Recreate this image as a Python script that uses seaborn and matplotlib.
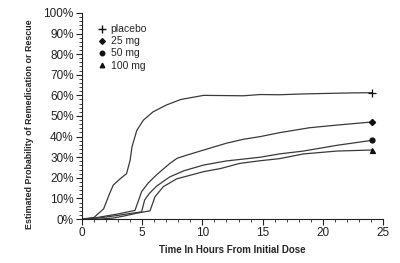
import numpy as np
import pandas as pd
import seaborn as sns
import matplotlib.pyplot as plt
from matplotlib.lines import Line2D
from matplotlib.ticker import MultipleLocator, PercentFormatter

# values (hours, % remedicated)
placebo_h = [0, 1.0, 1.8, 2.3, 2.6, 3.2, 3.7, 4.0, 4.15, 4.55, 5.1, 5.9, 7.0, 8.2, 10.1, 13.4, 14.8, 16.4, 18.4, 22.5, 24.1]
placebo_p = [0, 0.8, 5, 12.5, 16.5, 19.7, 22, 28.6, 35, 43, 48, 52, 55.3, 58, 60, 59.8, 60.4, 60.3, 60.7, 61.2, 61.3]

mg25_h = [0, 1, 2, 3, 4.4, 4.95, 5.5, 6.2, 7.3, 7.9, 8.7, 10.4, 12, 13.4, 14.8, 16.4, 18.9, 21.2, 24.1]
mg25_p = [0, 0.5, 1.5, 2.5, 4.2, 13.3, 17.5, 21.5, 27, 29.5, 31, 34, 36.8, 38.7, 40, 41.9, 44.3, 45.6, 47.1]

mg50_h = [0, 1, 2, 3, 4, 4.95, 5.2, 5.6, 6.2, 7.3, 8.5, 10.1, 12, 14.8, 16.4, 18.4, 21.2, 24.1]
mg50_p = [0, 0.3, 1, 1.8, 2.7, 3.5, 9.2, 12.5, 16, 20.5, 23.5, 26.2, 28.2, 30, 31.6, 33, 35.8, 38.2]

mg100_h = [0, 1.5, 2.6, 3.5, 4.5, 5.65, 6.06, 6.75, 7.86, 10.1, 11.5, 13.1, 14.8, 16.4, 18.4, 21.2, 24.1]
mg100_p = [0, 0, 0.5, 1.5, 2.8, 4, 10.8, 15.7, 19.5, 23, 24.5, 27, 28.3, 29.3, 31.6, 33, 33.5]

labels = ['placebo', '25 mg', '50 mg', '100 mg']
markers = ['+', 'D', 'o', '^']

sns.set_style('ticks')
plt.rcParams['font.family'] = ['Liberation Sans Narrow', 'Liberation Sans', 'DejaVu Sans']

fig = plt.figure(figsize=(4, 2.63), dpi=100)
ax = fig.add_axes([0.205, 0.167, 0.7525, 0.784])

line_col = '#3a3a3a'
series = [(placebo_h, placebo_p), (mg25_h, mg25_p), (mg50_h, mg50_p), (mg100_h, mg100_p)]
msizes = [6, 3.2, 3.6, 3.6]
for (h, p), lab, mk, ms in zip(series, labels, markers, msizes):
    df = pd.DataFrame({'hours': h, 'pct': p})
    sns.lineplot(data=df, x='hours', y='pct', ax=ax, color=line_col, linewidth=0.9)
    ax.plot(h[-1], p[-1], marker=mk, color='#111111', markersize=ms, markeredgewidth=0.9)

ax.set_xlim(0, 25)
ax.set_ylim(0, 100)
ax.xaxis.set_major_locator(MultipleLocator(5))
ax.xaxis.set_minor_locator(MultipleLocator(1))
ax.yaxis.set_major_locator(MultipleLocator(10))
ax.yaxis.set_minor_locator(MultipleLocator(2))
ax.yaxis.set_major_formatter(PercentFormatter(decimals=0))
ax.tick_params(which='major', length=4, width=0.8, labelsize=8.5, colors='#222222', pad=2)
ax.tick_params(which='minor', length=2.5, width=0.6)
sns.despine(ax=ax)
for s in ['left', 'bottom']:
    ax.spines[s].set_linewidth(0.8)
    ax.spines[s].set_color('#222222')

ax.set_xlabel('Time In Hours From Initial Dose', fontsize=7, fontweight='bold', labelpad=4)
ax.set_ylabel('Estimated Probability of Remedication or Rescue', fontsize=6.4, fontweight='bold', labelpad=6)
ax.yaxis.set_label_coords(-0.16, 0.46)

handles = [Line2D([], [], linestyle='none', marker=mk, color='#111111', markersize=ms * 0.9)
           for mk, ms in zip(markers, msizes)]
ax.legend(handles, labels, loc='upper left', bbox_to_anchor=(0.04, 0.97), frameon=False,
          fontsize=7.5, handlelength=0.6, handletextpad=0.5, labelspacing=0.2, borderpad=0)

fig.savefig('out.png', dpi=100)
